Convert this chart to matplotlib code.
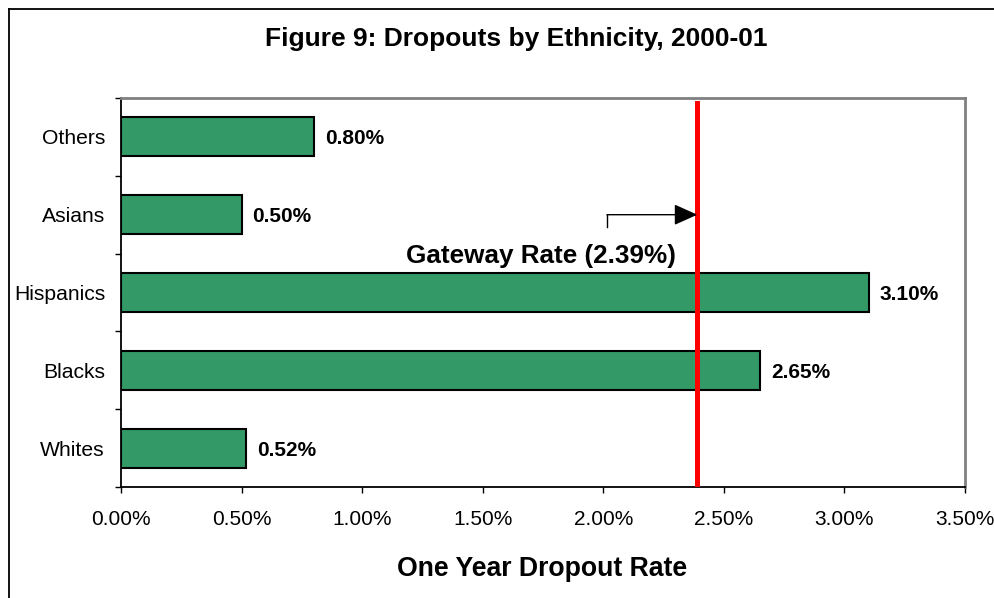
import matplotlib
matplotlib.use("Agg")
import matplotlib.pyplot as plt
from matplotlib.lines import Line2D
import numpy as np

# Data
groups = ["Whites", "Blacks", "Hispanics", "Asians", "Others"]
rates = [0.52, 2.65, 3.10, 0.50, 0.80]          # percent
gateway_rate = 2.39                               # percent
x_ticks = [0.0, 0.5, 1.0, 1.5, 2.0, 2.5, 3.0, 3.5]

plt.rcParams['font.family'] = ['Liberation Sans', 'DejaVu Sans']

fig = plt.figure(figsize=(9.95, 5.98), dpi=100)
ax = fig.add_axes([121 / 995, 1 - 487 / 598, (965 - 121) / 995, (487 - 98) / 598])

y = np.arange(len(groups))
ax.barh(y, rates, height=0.5, color="#339966", edgecolor="black", linewidth=1.5, zorder=2)

for yi, v in zip(y, rates):
    ax.text(v + 0.045, yi, f"{v:.2f}%", va="center_baseline", ha="left",
            fontsize=15, fontweight="bold")

ax.axvline(gateway_rate, ymax=(487 - 103) / (487 - 98), color="#ff0000",
           linewidth=3.6, zorder=3)

# Callout arrow pointing to the gateway line
ax.plot([2.015, 2.015], [2.84, 3.0], color="black", linewidth=1, zorder=4)
ax.annotate("", xy=(gateway_rate, 3.0), xytext=(2.015, 3.0),
            arrowprops=dict(arrowstyle="-|>,head_length=1.45,head_width=0.65",
                            mutation_scale=10, color="black", linewidth=1,
                            shrinkA=0, shrinkB=0), zorder=4)
ax.text(1.74, 2.38, f"Gateway Rate ({gateway_rate:.2f}%)", ha="center", va="baseline",
        fontsize=18.8, fontweight="bold")

ax.set_xlim(0, 3.5)
ax.set_ylim(-0.5, len(groups) - 0.5)
ax.set_xticks(x_ticks)
ax.set_xticklabels([f"{t:.2f}%" for t in x_ticks], fontsize=15)
ax.set_yticks(y)
ax.set_yticklabels(groups, fontsize=15.2, va="center_baseline")
ax.set_yticks(np.arange(-0.5, len(groups)), minor=True)
ax.tick_params(axis="y", which="major", length=0, pad=11.5)
ax.tick_params(axis="y", which="minor", length=4.5, width=1, direction="out", color="black")
ax.tick_params(axis="x", which="major", length=4.5, width=1, direction="out", pad=12)

for side in ("top", "right"):
    ax.spines[side].set_color("#808080")
    ax.spines[side].set_linewidth(2)
for side in ("left", "bottom"):
    ax.spines[side].set_color("black")
    ax.spines[side].set_linewidth(1.3)

fig.text(516 / 995, 1 - 46 / 598, "Figure 9: Dropouts by Ethnicity, 2000-01", ha="center",
         va="baseline", fontsize=19, fontweight="bold")
fig.text(542.5 / 995, 1 - 576 / 598, "One Year Dropout Rate", ha="center", va="baseline",
         fontsize=19.2, fontweight="bold")

# Outer frame of the chart area
fig.add_artist(Line2D([9 / 995, 9 / 995], [0, 1 - 9 / 598], color="black", linewidth=1.3,
                      transform=fig.transFigure))
fig.add_artist(Line2D([9 / 995, 1], [1 - 9 / 598, 1 - 9 / 598], color="black", linewidth=1.3,
                      transform=fig.transFigure))

fig.savefig("out.png", dpi=100)
